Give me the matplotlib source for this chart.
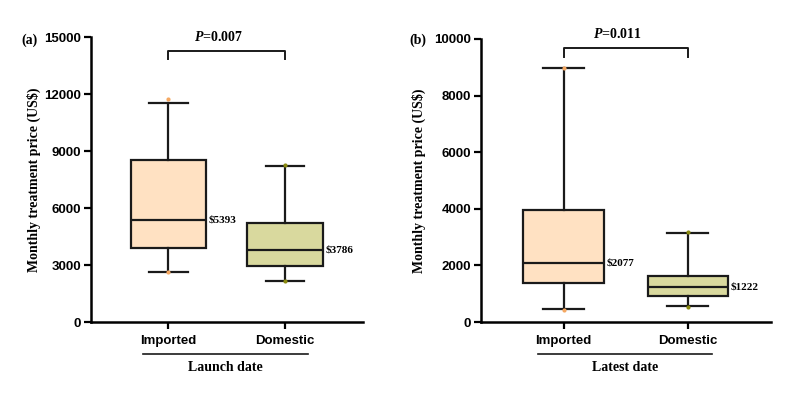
import matplotlib
matplotlib.use("Agg")
import matplotlib.pyplot as plt

plt.rcParams['mathtext.fontset'] = 'custom'
plt.rcParams['mathtext.rm'] = 'Liberation Serif:bold'
plt.rcParams['mathtext.it'] = 'Liberation Serif:bold:italic'

SANS = 'Liberation Sans'
SERIF = 'Liberation Serif'

groups = ['Imported', 'Domestic']
fills = ['#FFE1C2', '#D9D99E']
dot_colors = ['#F5A862', '#8A8A10']

# panel (a) launch date
a_q1 = [3880, 2960]
a_med = [5393, 3786]
a_q3 = [8540, 5200]
a_lo = [2650, 2175]
a_hi = [11540, 8210]
a_min = [2640, 2150]
a_max = [11720, 8250]
a_p = '0.007'
a_yticks = [0, 3000, 6000, 9000, 12000, 15000]

# panel (b) latest date
b_q1 = [1378, 908]
b_med = [2077, 1222]
b_q3 = [3960, 1636]
b_lo = [470, 550]
b_hi = [8960, 3155]
b_min = [430, 535]
b_max = [8990, 3180]
b_p = '0.011'
b_yticks = [0, 2000, 4000, 6000, 8000, 10000]

fig = plt.figure(figsize=(7.89, 3.95), dpi=100)
ax1 = fig.add_axes([0.1153, 0.1848, 0.3447, 0.7215])
ax2 = fig.add_axes([0.6096, 0.1848, 0.3676, 0.7165])


def draw_panel(ax, q1, med, q3, lo, hi, mn, mx, yticks, pval, br_y, br_drop,
               group_label, line_x, lab_x):
    stats = []
    for i in range(2):
        stats.append(dict(med=med[i], q1=q1[i], q3=q3[i],
                          whislo=lo[i], whishi=hi[i], fliers=[]))
    pos = [1, 2]
    bp = ax.bxp(stats, positions=pos, widths=0.65, capwidths=0.33,
                patch_artist=True, showfliers=False,
                boxprops=dict(linewidth=1.6, edgecolor='#1a1a1a'),
                whiskerprops=dict(linewidth=1.6, color='#1a1a1a'),
                capprops=dict(linewidth=1.6, color='#1a1a1a'),
                medianprops=dict(linewidth=1.6, color='#1a1a1a'))
    for patch, c in zip(bp['boxes'], fills):
        patch.set_facecolor(c)
    for i in range(2):
        ax.plot([pos[i], pos[i]], [mn[i], mx[i]], 'o', ms=3, mew=0,
                color=dot_colors[i], zorder=5, clip_on=False)
        ax.text(pos[i] + 0.345, med[i], '\\$%d' % med[i], fontfamily=SERIF,
                fontweight='bold', fontsize=8, va='center', ha='left')

    ax.set_ylim(0, yticks[-1])
    ax.set_yticks(yticks)
    ax.set_xlim(0.335, 2.668)
    ax.set_xticks(pos)
    ax.set_xticklabels(groups)
    for lbl in ax.get_xticklabels() + ax.get_yticklabels():
        lbl.set_fontfamily(SANS)
        lbl.set_fontweight('bold')
        lbl.set_fontsize(9.5)
    ax.tick_params(width=1.6, length=5, pad=2)
    ax.tick_params(axis='x', pad=4)
    for s in ['top', 'right']:
        ax.spines[s].set_visible(False)
    for s in ['left', 'bottom']:
        ax.spines[s].set_linewidth(1.8)

    ax.set_ylabel('Monthly treatment price (US\\$)', fontfamily=SERIF,
                  fontweight='bold', fontsize=10)
    ax.yaxis.set_label_coords(lab_x, 0.5)

    # significance bracket
    ax.plot([1, 1, 2, 2], [br_drop, br_y, br_y, br_drop], color='#1a1a1a',
            lw=1.4, clip_on=False)
    ax.text(1.43, br_y + yticks[-1] * 0.025, r'$\mathit{P}$=' + pval,
            fontfamily=SERIF, fontweight='bold', fontsize=10,
            ha='center', va='bottom')

    # group line and label below axis
    ax.plot(line_x, [-0.112, -0.112], color='#1a1a1a', lw=1.2,
            transform=ax.transAxes, clip_on=False)
    ax.text(sum(line_x) / 2, -0.16, group_label, transform=ax.transAxes,
            fontfamily=SERIF, fontweight='bold', fontsize=10,
            ha='center', va='center')


draw_panel(ax1, a_q1, a_med, a_q3, a_lo, a_hi, a_min, a_max, a_yticks, a_p,
           14280, 13840, 'Launch date', [0.191, 0.798], -0.184)
draw_panel(ax2, b_q1, b_med, b_q3, b_lo, b_hi, b_min, b_max, b_yticks, b_p,
           9690, 9375, 'Latest date', [0.197, 0.797], -0.19)

fig.text(29 / 789, 1 - 40 / 395, '(a)', fontfamily=SERIF, fontweight='bold',
         fontsize=10, ha='center', va='center')
fig.text(418 / 789, 1 - 40 / 395, '(b)', fontfamily=SERIF, fontweight='bold',
         fontsize=10, ha='center', va='center')

fig.savefig('out.png', dpi=100)
